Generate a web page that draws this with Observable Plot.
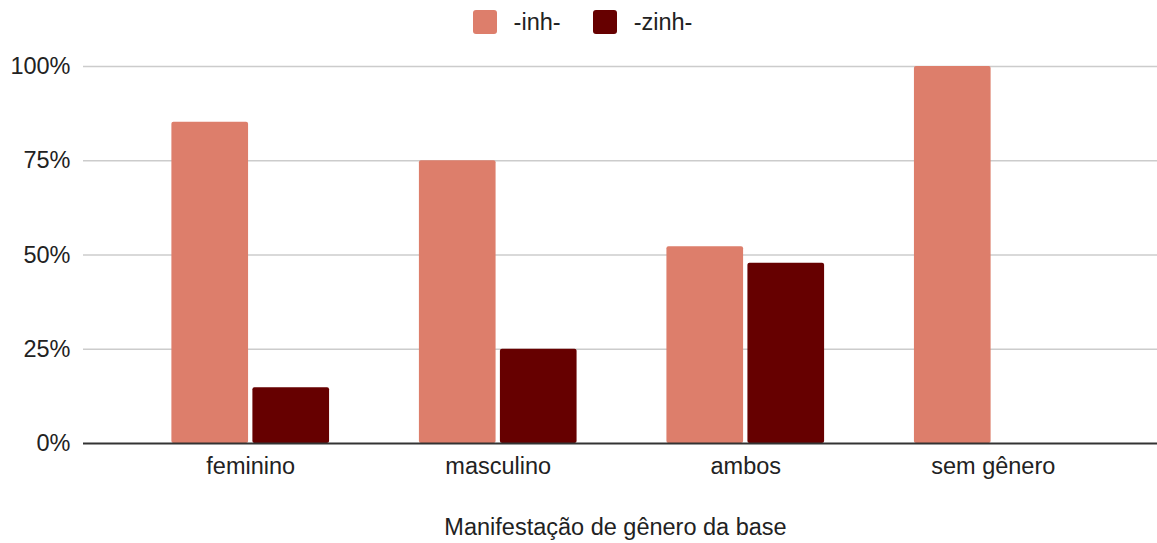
<!DOCTYPE html>
<html>
<head>
<meta charset="utf-8">
<script src="https://cdn.jsdelivr.net/npm/d3@7"></script>
<script src="https://cdn.jsdelivr.net/npm/@observablehq/plot@0.6"></script>
<style>
  html, body { margin: 0; padding: 0; background: #fff; width: 1157px; height: 543px; overflow: hidden; }
  body { font-family: "Liberation Sans", Arial, sans-serif; color: #222; }
  #legend { height: 44px; display: flex; justify-content: center; align-items: center; font-size: 23.5px; padding-left: 8px; box-sizing: border-box; }
  .item { display: flex; align-items: center; margin: 0 16px; }
  .sw { width: 24px; height: 24px; border-radius: 3px; margin-right: 17px; }
  #title { text-align: center; font-size: 23.5px; height: 44px; line-height: 44px; padding-left: 74px; padding-top: 6px; }
  svg { display: block; }
</style>
</head>
<body>
<div id="legend"></div>
<div id="chart"></div>
<div id="title"></div>
<script>
const categories = ["feminino", "masculino", "ambos", "sem gênero"];
const series = ["-inh-", "-zinh-"];
const inhValues = [85.2, 75, 52.2, 100];
const zinhValues = [14.8, 25, 47.8, 0];
const yTicks = [0, 25, 50, 75, 100];
const colors = ["#dd7e6b", "#660000"];
const xTitle = "Manifestação de gênero da base";

const data = [];
categories.forEach((c, i) => {
  data.push({category: c, series: series[0], value: inhValues[i]});
  data.push({category: c, series: series[1], value: zinhValues[i]});
});

// legend
const legend = document.getElementById("legend");
series.forEach((s, i) => {
  const item = document.createElement("div");
  item.className = "item";
  const sw = document.createElement("div");
  sw.className = "sw";
  sw.style.background = colors[i];
  const t = document.createElement("span");
  t.textContent = s;
  item.appendChild(sw);
  item.appendChild(t);
  legend.appendChild(item);
});

document.getElementById("title").textContent = xTitle;

const chart = Plot.plot({
  width: 1157,
  height: 455,
  marginTop: 22,
  marginBottom: 56,
  marginLeft: 83,
  marginRight: 0,
  style: {fontSize: "23.5px", fontFamily: '"Liberation Sans", Arial, sans-serif', color: "#222", background: "white"},
  x: {domain: categories, paddingInner: 0.363, paddingOuter: 0.345, insetLeft: 3, round: false, label: null, tickSize: 0, tickPadding: 14},
  y: {domain: [0, 100], ticks: yTicks, tickFormat: d => d + "%", label: null, tickSize: 0, tickPadding: 13},
  color: {domain: series, range: colors},
  marks: [
    Plot.ruleY(yTicks.filter(d => d > 0), {stroke: "#cccccc", strokeWidth: 1.6}),
    Plot.barY(data.filter(d => d.series === series[0]), {x: "category", y: "value", fill: "series", insetRight: 81, rx: 2}),
    Plot.barY(data.filter(d => d.series === series[1] && d.value > 0), {x: "category", y: "value", fill: "series", insetLeft: 81, rx: 2}),
    Plot.ruleY([0], {stroke: "#333333", strokeWidth: 2})
  ]
});
document.getElementById("chart").appendChild(chart);
</script>
</body>
</html>
